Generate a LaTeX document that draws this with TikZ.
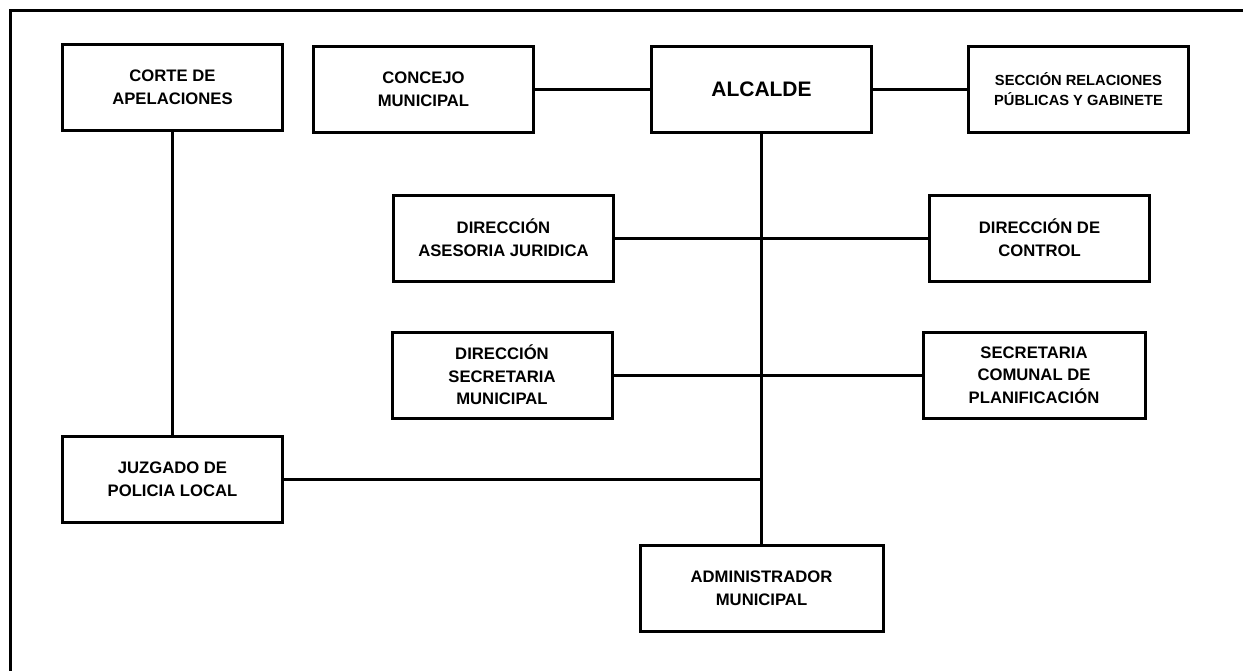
\documentclass[tikz,border=0pt]{standalone}
\usepackage{fontspec}
\setmainfont{Liberation Sans}
\begin{document}
\begin{tikzpicture}
    [
      x=0.6pt, y=-0.6pt,
      line width=1.8pt,
      unit/.style={draw, align=center, inner sep=0pt,
        minimum width=132pt, minimum height=51.6pt,
        font=\bfseries\fontsize{10}{13.6}\selectfont}
    ]
    \useasboundingbox (0,0) rectangle (1243,671);
    \draw (1243,10) -- (10,10) -- (10,671);

    \node [unit] (corte) at (172.5,87) {CORTE DE\\APELACIONES};
    \node [unit] (concejo) at (423.5,89.5) {CONCEJO\\MUNICIPAL};
    \node [unit, font=\bfseries\fontsize{12.6}{15}\selectfont] (alcalde) at (761.5,89.5) {ALCALDE};
    \node [unit, font=\bfseries\fontsize{8.8}{12}\selectfont] (seccion) at (1078.5,89.5) {SECCIÓN RELACIONES\\PÚBLICAS Y GABINETE};
    \node [unit] (asesoria) at (503.5,238) {DIRECCIÓN\\ASESORIA JURIDICA};
    \node [unit] (control) at (1039.5,238) {DIRECCIÓN DE\\CONTROL};
    \node [unit] (secretaria) at (502,375) {DIRECCIÓN\\SECRETARIA\\MUNICIPAL};
    \node [unit, minimum width=133.2pt] (planificacion) at (1034,375) {SECRETARIA\\COMUNAL DE\\PLANIFICACIÓN};
    \node [unit] (juzgado) at (172.5,479.5) {JUZGADO DE\\POLICIA LOCAL};
    \node [unit, minimum width=145.8pt] (administrador) at (761.5,588.5) {ADMINISTRADOR\\MUNICIPAL};

    \draw (concejo) -- (alcalde);
    \draw (alcalde) -- (seccion);
    \draw (corte) -- (juzgado);
    \draw (alcalde) -- (administrador);
    \draw (asesoria) -- (control);
    \draw (secretaria) -- (planificacion);
    \draw (juzgado) -- (juzgado -| alcalde.south);
\end{tikzpicture}
\end{document}
